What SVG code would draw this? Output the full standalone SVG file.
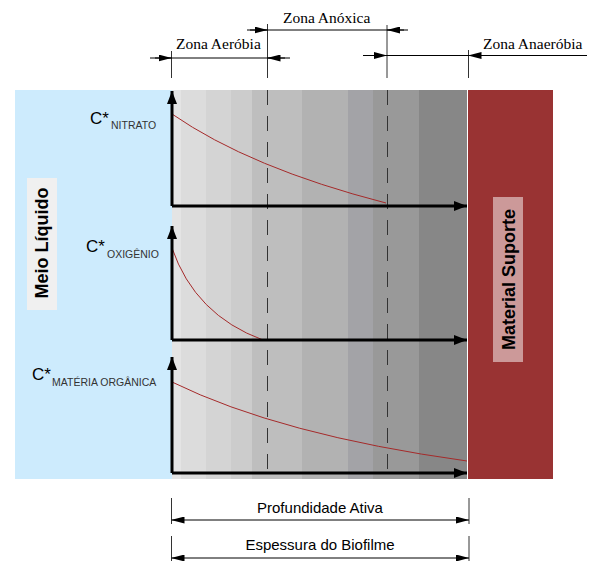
<svg xmlns="http://www.w3.org/2000/svg" width="594" height="561" viewBox="0 0 594 561">
<style>
.serif{font-family:"Liberation Serif","Times New Roman",serif;font-size:15.5px;fill:#000}
.sans{font-family:"Liberation Sans",Arial,sans-serif;fill:#000}
.dim{stroke:#000;stroke-width:1;fill:none}
.ext{stroke:#333;stroke-width:1;fill:none}
.axis{stroke:#000;stroke-width:3;fill:none}
.curve{stroke:#a52a2a;stroke-width:1;fill:none}
.dash{stroke:#333;stroke-width:1;stroke-dasharray:15 11;fill:none}
.sub{font-size:10.5px;fill:#333}
.c{font-size:17px}
</style>
<defs>
<marker id="da" markerUnits="userSpaceOnUse" viewBox="0 0 13 7" refX="13" refY="3.5" markerWidth="13" markerHeight="7" orient="auto">
<path d="M0,0 L13,3.5 L0,7 Z" fill="#000"/>
</marker>
<marker id="aa" markerUnits="userSpaceOnUse" viewBox="0 0 13 10" refX="13" refY="5" markerWidth="13" markerHeight="10" orient="auto">
<path d="M0,0 L13,5 L0,10 Z" fill="#000"/>
</marker>
</defs>

<g id="meio-liquido">
<rect x="15" y="90" width="157" height="389" fill="#cdebfd"/>
<rect x="27" y="178" width="30" height="132" fill="#f0f0f0"/>
<text class="sans" transform="translate(47.5,243) rotate(-90)" text-anchor="middle" font-size="18" font-weight="bold">Meio Líquido</text>
</g>

<g id="biofilme">
<rect x="172" y="90" width="9" height="389" fill="#e4e4e4"/>
<rect x="181" y="90" width="25" height="389" fill="#dcdcdc"/>
<rect x="206" y="90" width="25" height="389" fill="#d4d4d4"/>
<rect x="231" y="90" width="21" height="389" fill="#cccccc"/>
<rect x="252" y="90" width="50" height="389" fill="#bebebe"/>
<rect x="302" y="90" width="46" height="389" fill="#b2b2b2"/>
<rect x="348" y="90" width="25" height="389" fill="#a3a3a7"/>
<rect x="373" y="90" width="46" height="389" fill="#999999"/>
<rect x="419" y="90" width="48" height="389" fill="#878787"/>
<line class="dash" x1="267.5" y1="90" x2="267.5" y2="479"/>
<line class="dash" x1="387.5" y1="90" x2="387.5" y2="479"/>
</g>

<g id="material-suporte">
<rect x="468" y="90" width="85" height="389" fill="#993333"/>
<rect x="493" y="197" width="30" height="165" fill="#cc9999"/>
<text class="sans" transform="translate(515,279.5) rotate(-90)" text-anchor="middle" font-size="18" font-weight="bold">Material Suporte</text>
</g>

<g id="grafico-nitrato">
<text class="sans c" x="90" y="124">C*</text>
<text class="sans sub" x="111" y="129">NITRATO</text>
<path class="curve" d="M172,114 Q250,168 386,203"/>
</g>

<g id="grafico-oxigenio">
<text class="sans c" x="86" y="252">C*</text>
<text class="sans sub" x="107" y="258">OXIGÊNIO</text>
<path class="curve" d="M172,248 Q195,315 263,340"/>
</g>

<g id="grafico-materia-organica">
<text class="sans c" x="32" y="380">C*</text>
<text class="sans sub" x="52" y="386">MATÉRIA ORGÂNICA</text>
<path class="curve" d="M172,382 Q280,435 467,461"/>
</g>

<g id="zona-aerobia">
<text class="serif" x="176" y="49">Zona Aeróbia</text>
</g>
<g id="zona-anoxica">
<text class="serif" x="283" y="23">Zona Anóxica</text>
</g>
<g id="zona-anaerobia">
<text class="serif" x="483" y="49">Zona Anaeróbia</text>
</g>
<g id="profundidade-ativa">
<text class="sans" x="320" y="513" text-anchor="middle" font-size="15">Profundidade Ativa</text>
</g>
<g id="espessura-biofilme">
<text class="sans" x="320" y="550" text-anchor="middle" font-size="15">Espessura do Biofilme</text>
</g>

<g id="connectors">
<path class="axis" d="M172,206 L172,91" marker-end="url(#aa)"/>
<path class="axis" d="M172,206 L467,206" marker-end="url(#aa)"/>
<path class="axis" d="M172,340 L172,226" marker-end="url(#aa)"/>
<path class="axis" d="M172,340 L467,340" marker-end="url(#aa)"/>
<path class="axis" d="M172,473 L172,357" marker-end="url(#aa)"/>
<path class="axis" d="M172,473 L467,473" marker-end="url(#aa)"/>
<line class="ext" x1="171.5" y1="51" x2="171.5" y2="78"/>
<line class="ext" x1="267.5" y1="24" x2="267.5" y2="78"/>
<line class="ext" x1="387" y1="25" x2="387" y2="78"/>
<line class="ext" x1="468.5" y1="50" x2="468.5" y2="78"/>
<line class="dim" x1="150" y1="58" x2="290" y2="58"/>
<path class="dim" d="M155,58 L171.5,58" marker-end="url(#da)"/>
<path class="dim" d="M285,58 L267.5,58" marker-end="url(#da)"/>
<line class="dim" x1="247" y1="30" x2="408" y2="30"/>
<path class="dim" d="M250,30 L267.5,30" marker-end="url(#da)"/>
<path class="dim" d="M404,30 L387,30" marker-end="url(#da)"/>
<line class="dim" x1="363" y1="55.5" x2="587" y2="55.5"/>
<path class="dim" d="M368,55.5 L387,55.5" marker-end="url(#da)"/>
<path class="dim" d="M485,55.5 L468.5,55.5" marker-end="url(#da)"/>
<line class="ext" x1="171.5" y1="498" x2="171.5" y2="524"/>
<line class="ext" x1="469" y1="498" x2="469" y2="524"/>
<path class="dim" d="M320,520 L171.5,520" marker-end="url(#da)"/>
<path class="dim" d="M320,520 L469,520" marker-end="url(#da)"/>
<line class="ext" x1="171.5" y1="536" x2="171.5" y2="561"/>
<line class="ext" x1="469" y1="536" x2="469" y2="561"/>
<path class="dim" d="M320,558 L171.5,558" marker-end="url(#da)"/>
<path class="dim" d="M320,558 L469,558" marker-end="url(#da)"/>
</g>
</svg>
